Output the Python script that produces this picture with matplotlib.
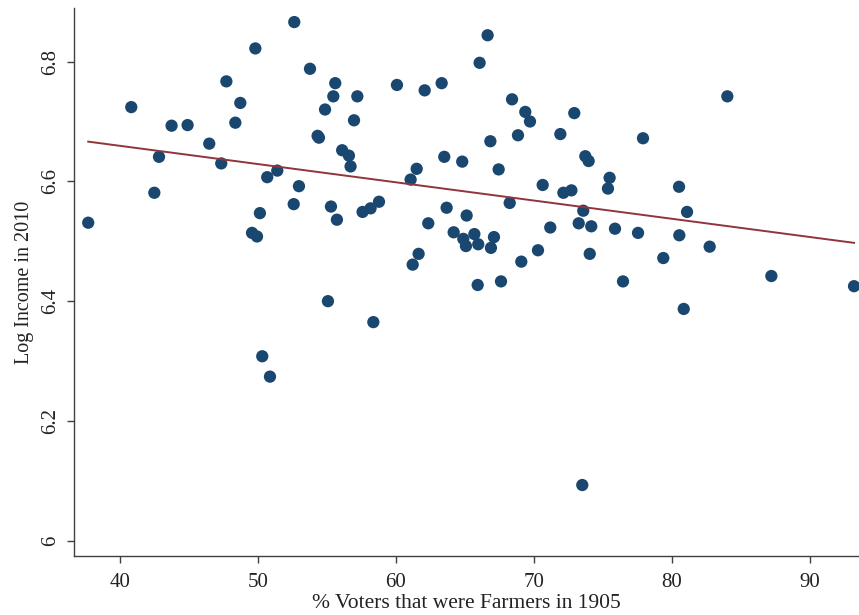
import numpy as np
import matplotlib; matplotlib.use("Agg")
import matplotlib.pyplot as plt

# % voters that were farmers in 1905 (x) and log income in 2010 (y)
farmers_pct = [37.70, 40.82, 43.74, 44.90, 42.83, 42.49, 46.47, 47.34, 47.71, 48.72,
               48.36, 49.81, 50.67, 50.14, 49.57, 49.93, 52.63, 53.77, 55.60, 55.46,
               57.20, 54.86, 56.96, 54.32, 54.42, 56.10, 56.59, 56.71, 51.40, 52.97,
               52.59, 55.29, 55.72, 57.58, 58.16, 58.77, 60.07, 62.08, 63.31, 61.50,
               61.06, 63.50, 64.80, 63.67, 62.34, 65.12, 64.18, 64.88, 65.07, 61.64,
               61.21, 55.07, 58.36, 66.64, 66.06, 68.41, 69.37, 69.71, 72.92, 68.84,
               71.91, 66.84, 77.90, 67.44, 73.72, 73.96, 70.63, 72.13, 72.71, 75.48,
               75.36, 68.24, 73.57, 73.24, 74.15, 71.18, 75.87, 77.54, 65.68, 67.10,
               65.96, 66.88, 70.29, 69.08, 74.04, 65.92, 67.61, 76.45, 79.37, 84.01,
               80.51, 81.09, 80.53, 82.73, 87.20, 93.19, 80.85, 50.31, 50.87, 73.50]
log_income = [6.531, 6.724, 6.693, 6.694, 6.641, 6.581, 6.663, 6.630, 6.767, 6.731,
              6.698, 6.822, 6.607, 6.547, 6.514, 6.508, 6.866, 6.788, 6.764, 6.742,
              6.742, 6.720, 6.702, 6.676, 6.673, 6.652, 6.643, 6.625, 6.618, 6.592,
              6.562, 6.558, 6.536, 6.549, 6.555, 6.566, 6.761, 6.752, 6.764, 6.621,
              6.603, 6.641, 6.633, 6.556, 6.530, 6.543, 6.515, 6.504, 6.492, 6.479,
              6.461, 6.400, 6.365, 6.844, 6.798, 6.737, 6.716, 6.700, 6.714, 6.677,
              6.679, 6.667, 6.672, 6.620, 6.642, 6.634, 6.594, 6.581, 6.585, 6.606,
              6.588, 6.564, 6.551, 6.530, 6.525, 6.523, 6.521, 6.514, 6.512, 6.507,
              6.495, 6.489, 6.485, 6.466, 6.479, 6.427, 6.433, 6.433, 6.472, 6.742,
              6.591, 6.549, 6.510, 6.491, 6.442, 6.425, 6.387, 6.308, 6.274, 6.093]
x_ticks = [40, 50, 60, 70, 80, 90]
y_ticks = [6, 6.2, 6.4, 6.6, 6.8]
y_tick_labels = ["6", "6.2", "6.4", "6.6", "6.8"]

NAVY = "#1a476f"; MAROON = "#90353b"; AX = "#404040"; INK = "#222222"
plt.rcParams["font.family"] = ["Liberation Serif", "DejaVu Serif"]

fig = plt.figure(figsize=(8.59, 6.15), dpi=100)
ax = fig.add_axes([74/859, 59/615, 785/859, 548/615])

x = np.array(farmers_pct); y = np.array(log_income)
ax.scatter(x, y, s=78, color=NAVY, edgecolors="none", zorder=3, clip_on=False)

# OLS line across the data range
b, a = np.polyfit(x, y, 1)
xs = np.array([x.min(), x.max()])
ax.plot(xs, a + b*xs, color=MAROON, lw=1.4, zorder=4)

ax.set_xlim(36.67, 93.55)
ax.set_ylim(5.9745, 6.8895)
ax.set_xticks(x_ticks)
ax.set_yticks(y_ticks, y_tick_labels)
for lbl in ax.get_yticklabels():
    lbl.set_rotation(90); lbl.set_va("center")

for s in ("top", "right"): ax.spines[s].set_visible(False)
for s in ("left", "bottom"):
    ax.spines[s].set_color(AX); ax.spines[s].set_linewidth(1.0)
ax.tick_params(axis="x", direction="out", length=5, width=1.0, color=AX, labelsize=15,
               labelcolor=INK, pad=7)
ax.tick_params(axis="y", direction="out", length=5, width=1.0, color=AX, labelsize=15,
               labelcolor=INK, pad=5)

ax.set_xlabel("% Voters that were Farmers in 1905", fontsize=15.5, color=INK, labelpad=2)
ax.set_ylabel("Log Income in 2010", fontsize=14.5, color=INK, labelpad=5)

fig.savefig("out.png", dpi=100)
